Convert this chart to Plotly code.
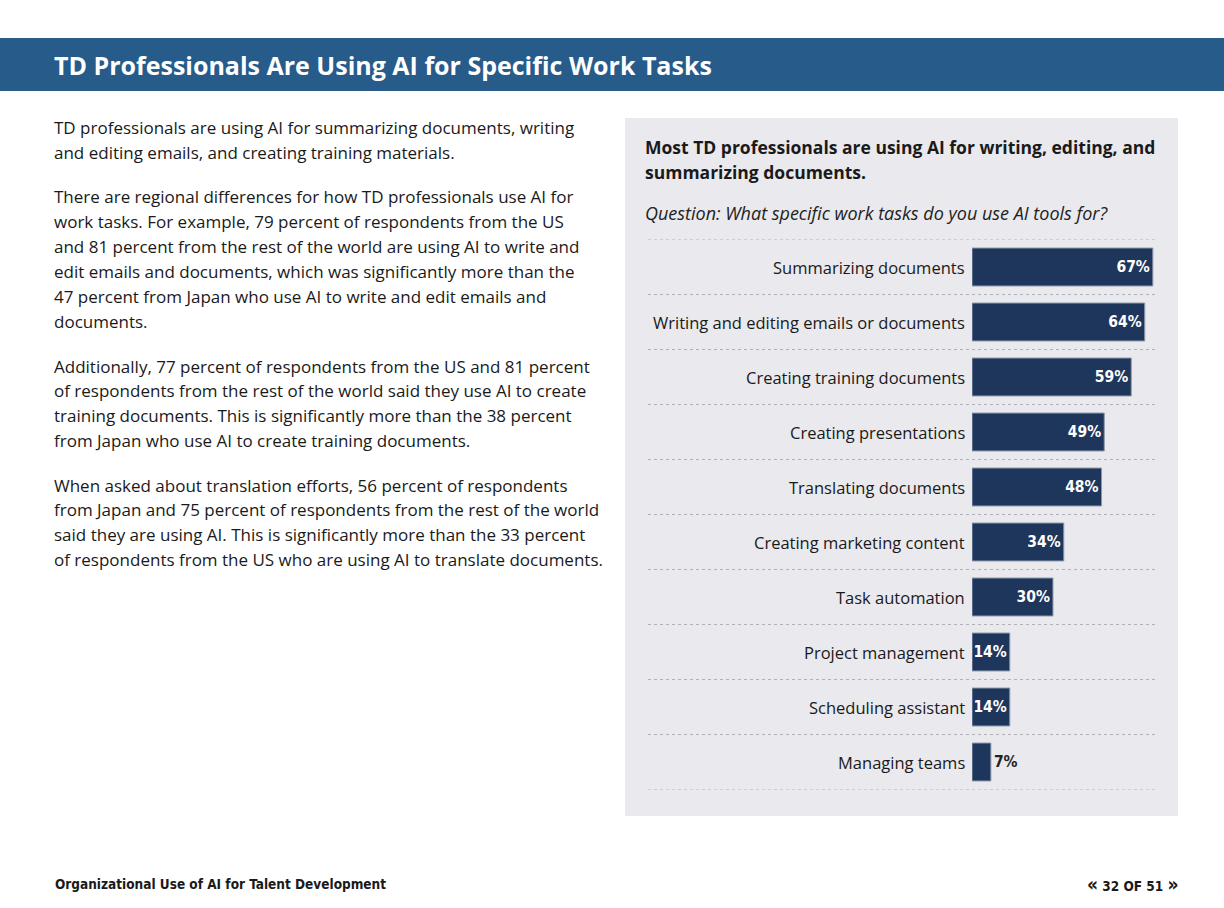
import plotly.graph_objects as go

categories = [
    "Summarizing documents",
    "Writing and editing emails or documents",
    "Creating training documents",
    "Creating presentations",
    "Translating documents",
    "Creating marketing content",
    "Task automation",
    "Project management",
    "Scheduling assistant",
    "Managing teams",
]
values = [67, 64, 59, 49, 48, 34, 30, 14, 14, 7]

title = "TD Professionals Are Using AI for Specific Work Tasks"
chart_title = ["Most TD professionals are using AI for writing, editing, and",
               "summarizing documents."]
question = "Question: What specific work tasks do you use AI tools for?"
body_lines = [
    ["TD professionals are using AI for summarizing documents, writing",
     "and editing emails, and creating training materials."],
    ["There are regional differences for how TD professionals use AI for",
     "work tasks. For example, 79 percent of respondents from the US",
     "and 81 percent from the rest of the world are using AI to write and",
     "edit emails and documents, which was significantly more than the",
     "47 percent from Japan who use AI to write and edit emails and",
     "documents."],
    ["Additionally, 77 percent of respondents from the US and 81 percent",
     "of respondents from the rest of the world said they use AI to create",
     "training documents. This is significantly more than the 38 percent",
     "from Japan who use AI to create training documents."],
    ["When asked about translation efforts, 56 percent of respondents",
     "from Japan and 75 percent of respondents from the rest of the world",
     "said they are using AI. This is significantly more than the 33 percent",
     "of respondents from the US who are using AI to translate documents."],
]
footer_left = "Organizational Use of AI for Talent Development"
footer_right = "32 OF 51"

W, H = 1224, 908
def px(x): return x / W
def py(y): return 1 - y / H

FONT = "Open Sans"
NAVY = "#1f365c"

n = len(categories)
threshold = 10
textpos = ["inside" if v >= threshold else "outside" for v in values]

fig = go.Figure()
fig.add_trace(go.Bar(
    x=values, y=list(range(n)), orientation="h",
    marker=dict(color=NAVY, line=dict(color="#8c99ad", width=1)),
    width=0.69,
    text=[f"{v}%" for v in values],
    textposition=textpos,
    insidetextanchor="end",
    textangle=0,
    constraintext="none",
    textfont=dict(family="DejaVu Sans Condensed", size=15.5, color="white", weight="bold"),
    insidetextfont=dict(family="DejaVu Sans Condensed", size=15.5, color="white", weight="bold"),
    outsidetextfont=dict(family="DejaVu Sans Condensed", size=15.5, color="#222222", weight="bold"),
    cliponaxis=False,
    hoverinfo="skip",
))

shapes = []
# header band
shapes.append(dict(type="rect", xref="paper", yref="paper", x0=0, x1=1,
                   y0=py(91), y1=py(38), fillcolor="#265b8a", line=dict(width=0), layer="below"))
# grey panel
shapes.append(dict(type="rect", xref="paper", yref="paper", x0=px(625), x1=px(1178),
                   y0=py(816), y1=py(118), fillcolor="#e9e9ee", line=dict(width=0), layer="below"))
# dotted separators
for i in range(n + 1):
    shapes.append(dict(type="line", xref="paper", yref="y", x0=px(648), x1=px(1155),
                       y0=i - 0.5, y1=i - 0.5, line=dict(color="#b0b0b8", width=1, dash="dot"),
                       layer="below"))

annotations = []
annotations.append(dict(text=f"<b>{title}</b>", xref="paper", yref="paper", x=px(52), y=py(65),
                        xanchor="left", yanchor="middle", showarrow=False,
                        font=dict(family=FONT, size=25, color="white")))
for i, line in enumerate(chart_title):
    annotations.append(dict(text=f"<b>{line}</b>", xref="paper", yref="paper", x=px(643),
                            y=py(147 + 25 * i), xanchor="left", yanchor="middle", showarrow=False,
                            font=dict(family=FONT, size=17.5, color="#1a1a1a")))
annotations.append(dict(text=f"<i>{question}</i>", xref="paper", yref="paper", x=px(643), y=py(213),
                        xanchor="left", yanchor="middle", showarrow=False,
                        font=dict(family=FONT, size=18, color="#222222")))
# body text
para_starts = [128, 197, 366, 485]
for p, lines in enumerate(body_lines):
    for j, line in enumerate(lines):
        annotations.append(dict(text=line, xref="paper", yref="paper", x=px(52),
                                y=py(para_starts[p] + 24.8 * j), xanchor="left", yanchor="middle",
                                showarrow=False, font=dict(family=FONT, size=17, color="#1a1a1a")))
# category labels
for i, c in enumerate(categories):
    annotations.append(dict(text=c, xref="paper", yref="y", x=px(967), y=i,
                            xanchor="right", yanchor="middle", showarrow=False,
                            font=dict(family=FONT, size=16.5, color="#1a1a1a")))
# footer
annotations.append(dict(text=f"<b>{footer_left}</b>", xref="paper", yref="paper", x=px(53), y=py(884),
                        xanchor="left", yanchor="middle", showarrow=False,
                        font=dict(family="DejaVu Sans Condensed", size=13.5, color="#1a1a1a")))
annotations.append(dict(text=f"<b><span style='font-size:19px'>«</span> {footer_right} <span style='font-size:19px'>»</span></b>",
                        xref="paper", yref="paper", x=px(1180), y=py(884),
                        xanchor="right", yanchor="middle", showarrow=False,
                        font=dict(family="DejaVu Sans Condensed", size=13.5, color="#1a1a1a")))

fig.update_layout(
    width=W, height=H, margin=dict(l=0, r=0, t=0, b=0),
    paper_bgcolor="white", plot_bgcolor="rgba(0,0,0,0)",
    showlegend=False, shapes=shapes, annotations=annotations,
    xaxis=dict(domain=[px(972), px(1155)], range=[0, 67.8], visible=False, fixedrange=True),
    yaxis=dict(domain=[py(789.5), py(239.5)], range=[n - 0.5, -0.5], visible=False, fixedrange=True),
)
fig.write_html("out.html", post_script="document.body.style.margin='0';",
               config={"displayModeBar": False})
